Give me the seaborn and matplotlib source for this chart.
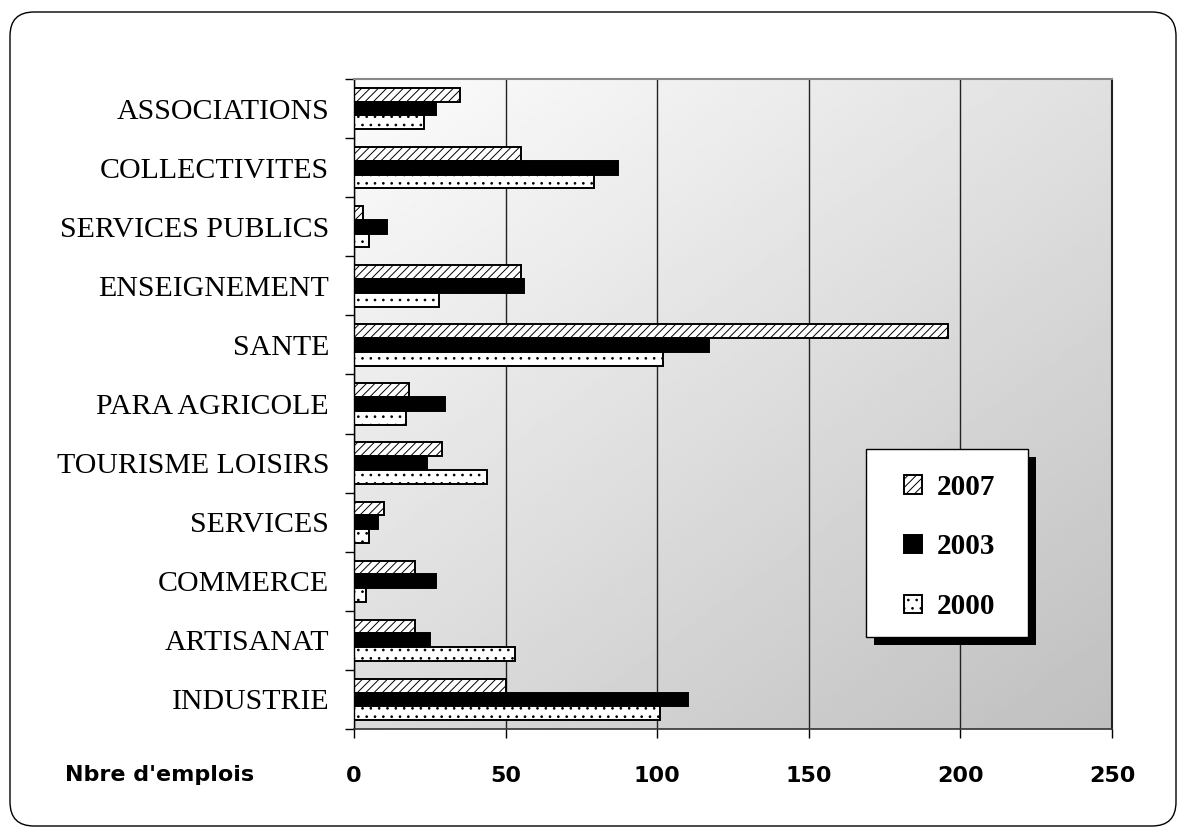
import numpy as np
import pandas as pd
import matplotlib
matplotlib.use("Agg")
import matplotlib.pyplot as plt
import seaborn as sns
from matplotlib.patches import Rectangle, FancyBboxPatch
from matplotlib.transforms import IdentityTransform
from matplotlib.ticker import FixedLocator

# données
secteurs = ['ASSOCIATIONS', 'COLLECTIVITES', 'SERVICES PUBLICS', 'ENSEIGNEMENT',
            'SANTE', 'PARA AGRICOLE', 'TOURISME LOISIRS', 'SERVICES',
            'COMMERCE', 'ARTISANAT', 'INDUSTRIE']
annees = ['2007', '2003', '2000']
emplois_2007 = [35, 55, 3, 55, 196, 18, 29, 10, 20, 20, 50]
emplois_2003 = [27, 87, 11, 56, 117, 30, 24, 8, 27, 25, 110]
emplois_2000 = [23, 79, 5, 28, 102, 17, 44, 5, 4, 53, 101]
x_ticks = [0, 50, 100, 150, 200, 250]

df = pd.DataFrame({
    'secteur': secteurs * 3,
    'annee': ['2007'] * 11 + ['2003'] * 11 + ['2000'] * 11,
    'emplois': emplois_2007 + emplois_2003 + emplois_2000,
})

sns.set_style('white')
plt.rcParams['hatch.linewidth'] = 0.7
plt.rcParams['text.color'] = 'black'
plt.rcParams['xtick.color'] = 'black'
plt.rcParams['ytick.color'] = 'black'

fig = plt.figure(figsize=(11.84, 8.32), dpi=100)
ax = fig.add_axes([354 / 1184, 103 / 832, 758 / 1184, 650 / 832])

# fond dégradé
u = np.linspace(0, 1, 256)[None, :]
v = np.linspace(0, 1, 256)[:, None]
fond = 0.99 - 0.11 * u - 0.13 * v
ax.imshow(fond, cmap='gray', vmin=0, vmax=1, extent=[0, 1, 0, 1],
          transform=ax.transAxes, aspect='auto', zorder=-1, interpolation='bilinear')

sns.barplot(data=df, y='secteur', x='emplois', hue='annee', hue_order=annees,
            order=secteurs, orient='h', width=0.7, saturation=1,
            palette={'2007': 'white', '2003': 'black', '2000': 'white'},
            edgecolor='black', linewidth=1.4, errorbar=None, legend=False, ax=ax)

hachures = {'2007': '////', '2003': '', '2000': '..'}
for cont, an in zip(ax.containers, annees):
    for barre in cont:
        barre.set_hatch(hachures[an])

ax.set_xlim(0, 250)
ax.set_ylim(10.5, -0.5)
ax.set_xticks(x_ticks)
ax.set_xlabel('')
ax.set_ylabel('')
ax.xaxis.grid(True, color='#222222', linewidth=1)
ax.yaxis.grid(False)
ax.set_axisbelow(True)

ax.tick_params(axis='x', length=6.5, width=1, pad=20, direction='out', bottom=True,
               color='black', labelcolor='black', labelsize=16)
for lab in ax.get_xticklabels():
    lab.set_fontweight('bold')
    lab.set_fontfamily('DejaVu Sans')
ax.tick_params(axis='y', which='major', length=0, pad=18, labelsize=21.5, labelcolor='black')
ax.yaxis.set_minor_locator(FixedLocator(np.arange(-0.5, 11, 1)))
ax.tick_params(axis='y', which='minor', length=6.5, width=1, left=True,
               direction='out', color='black')
for lab in ax.get_yticklabels():
    lab.set_fontfamily('Liberation Serif')

ax.spines['left'].set_color('black')
ax.spines['left'].set_linewidth(1)
ax.spines['bottom'].set_color('#333333')
ax.spines['bottom'].set_linewidth(1.2)
ax.spines['top'].set_color('#888888')
ax.spines['top'].set_linewidth(1.5)
ax.spines['right'].set_color('#222222')
ax.spines['right'].set_linewidth(1.5)

# cadre de la légende avec ombre portée
bx0, bx1, by0, by1 = 0.6755, 0.8892, 0.1415, 0.4308
dx, dy = 8 / 758, 8 / 650
ax.add_patch(Rectangle((bx0 + dx, by0 - dy), bx1 - bx0, by1 - by0, transform=ax.transAxes,
                       facecolor='black', edgecolor='none', zorder=4.8))
ax.add_patch(Rectangle((bx0, by0), bx1 - bx0, by1 - by0, transform=ax.transAxes,
                       facecolor='white', edgecolor='black', linewidth=1, zorder=4.9))

leg = ax.legend(ax.containers, annees, loc='center', bbox_to_anchor=(0.786, 0.28),
                borderaxespad=0, frameon=False,
                prop={'family': 'Liberation Serif', 'weight': 'bold', 'size': 21},
                handlelength=0.6, handleheight=0.6, handletextpad=0.5,
                labelspacing=1.12, borderpad=0)
leg.set_zorder(5)

fig.text(65 / 1184, 57 / 832, "Nbre d'emplois", fontsize=16, fontweight='bold',
         family='DejaVu Sans', va='center', ha='left', color='black')

cadre = FancyBboxPatch((10, 6), 1166, 814, boxstyle='round,pad=0,rounding_size=24',
                       transform=IdentityTransform(), fill=False, edgecolor='black', linewidth=1)
fig.add_artist(cadre)

fig.savefig('out.png', dpi=100)
